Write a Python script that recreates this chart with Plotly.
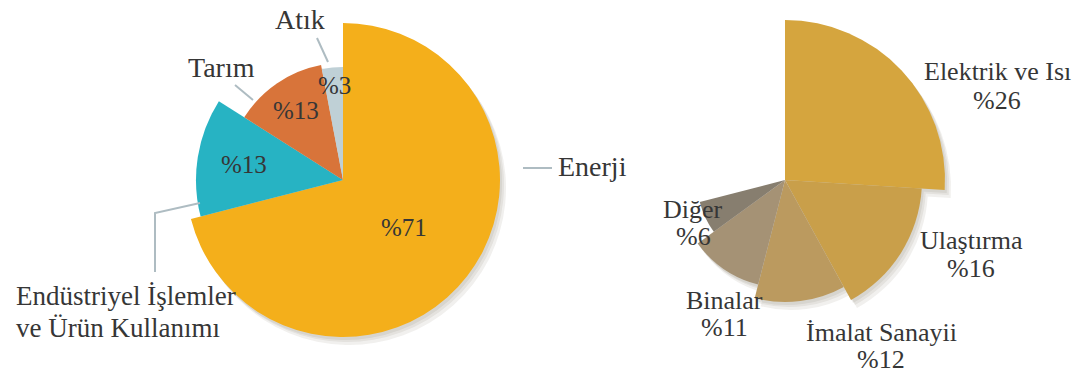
import math
import plotly.graph_objects as go

# --- Data -------------------------------------------------------------
sector_labels = ["Enerji", "Endüstriyel İşlemler", "ve Ürün Kullanımı", "Tarım", "Atık"]
sector_values = [71, 13, 13, 3]

energy_labels = ["Elektrik ve Isı", "Ulaştırma", "İmalat Sanayii", "Binalar", "Diğer"]
energy_values = [26, 16, 12, 11, 6]

# --- Styling ------------------------------------------------------------
W, H = 1075, 374
FONT = "Liberation Serif"
TEXT = "#363636"
LEADER = "#aebcc2"

sector_colors = ["#f4af1b", "#27b3c3", "#d8743a", "#bfd0d6"]
sector_radius = [157, 147, 117, 113]          # px, each slice drawn at its own length
energy_colors = ["#d5a53e", "#c99f4a", "#bb9a5f", "#a59275", "#877e6f"]
energy_radius = [160, 137, 122, 108, 88]

LEFT_C = (343, 180)      # pie centres in px
RIGHT_C = (785, 180)
R_MAX = 180              # radial axis range -> 1 unit == 1 px
SHADOW_STEPS = [(2, 3), (4, 5), (6, 8)]


def px(x):
    return x / W


def py(y):
    return 1 - y / H


def slices(values):
    """Mid-angle and angular width (degrees, clockwise from 12 o'clock)."""
    mids, widths, start = [], [], 0.0
    for v in values:
        w = v * 3.6
        mids.append(start + w / 2)
        widths.append(w)
        start += w
    return mids, widths


def domain(c, dx=0, dy=0):
    cx, cy = c[0] + dx, c[1] + dy
    return dict(x=[px(cx - R_MAX), px(cx + R_MAX)], y=[py(cy + R_MAX), py(cy - R_MAX)])


polar_common = dict(
    bgcolor="rgba(0,0,0,0)",
    radialaxis=dict(visible=False, range=[0, R_MAX]),
    angularaxis=dict(visible=False, rotation=90, direction="clockwise"),
    hole=0,
)

fig = go.Figure()
layout_polars = {}
l_mid, l_w = slices(sector_values)
r_mid, r_w = slices(energy_values)

pies = [
    (LEFT_C, sector_radius, l_mid, l_w, sector_colors),
    (RIGHT_C, energy_radius, r_mid, r_w, energy_colors),
]

n = 0
# soft drop shadows first, so they sit underneath the slices
for centre, radius, mids, widths, _ in pies:
    for dx, dy in SHADOW_STEPS:
        n += 1
        name = "polar" if n == 1 else f"polar{n}"
        fig.add_trace(go.Barpolar(
            r=radius, theta=mids, width=widths,
            marker=dict(color="rgba(60,45,20,0.07)", line=dict(width=0)),
            subplot=name, hoverinfo="skip", showlegend=False,
        ))
        layout_polars[name] = dict(domain=domain(centre, dx, dy), **polar_common)

for centre, radius, mids, widths, colors in pies:
    n += 1
    name = f"polar{n}"
    fig.add_trace(go.Barpolar(
        r=radius, theta=mids, width=widths,
        marker=dict(color=colors, line=dict(width=0)),
        subplot=name, hoverinfo="skip", showlegend=False,
    ))
    layout_polars[name] = dict(domain=domain(centre), **polar_common)

fig.update_layout(
    width=W, height=H,
    margin=dict(l=0, r=0, t=0, b=0),
    paper_bgcolor="white", plot_bgcolor="white",
    **layout_polars,
)


def polar_to_px(c, theta, r):
    t = math.radians(theta)
    return c[0] + r * math.sin(t), c[1] - r * math.cos(t)


annotations = []


def label(x, y, text, size=25):
    annotations.append(dict(
        x=px(x), y=py(y), xref="paper", yref="paper", text=text,
        showarrow=False, xanchor="center", yanchor="middle",
        font=dict(family=FONT, size=size, color=TEXT),
    ))


# values inside the left pie
inner_frac = [0.49, 0.68, 0.72, 0.84]
for mid, rad, frac, v in zip(l_mid, sector_radius, inner_frac, sector_values):
    x, y = polar_to_px(LEFT_C, mid, rad * frac)
    label(x, y, f"%{v}", 25)

# category names around the left pie
label(300, 20, sector_labels[4], 28)
label(221, 67, sector_labels[3], 28)
label(593, 166, sector_labels[0], 28)
label(126, 296, sector_labels[1], 27)
label(118, 328, sector_labels[2], 27)

# right pie labels: (x, name y, value y)
right_pos = [(997, 71, 101), (971, 240, 268), (881, 332, 359), (724, 300, 327), (693, 209, 236)]
for (x, y1, y2), name, v in zip(right_pos, energy_labels, energy_values):
    label(x, y1, name, 26)
    label(x, y2, f"%{v}", 26)

fig.update_layout(annotations=annotations)

# leader lines
leaders = [
    [(317, 38), (328, 62)],
    [(235, 85), (253, 100)],
    [(200, 203), (155, 213), (155, 272)],
    [(523, 168), (552, 168)],
]
shapes = []
for pts in leaders:
    path = "M " + " L ".join(f"{px(x)},{py(y)}" for x, y in pts)
    shapes.append(dict(type="path", xref="paper", yref="paper", path=path,
                       line=dict(color=LEADER, width=2)))
fig.update_layout(shapes=shapes)

fig.write_html("out.html")
